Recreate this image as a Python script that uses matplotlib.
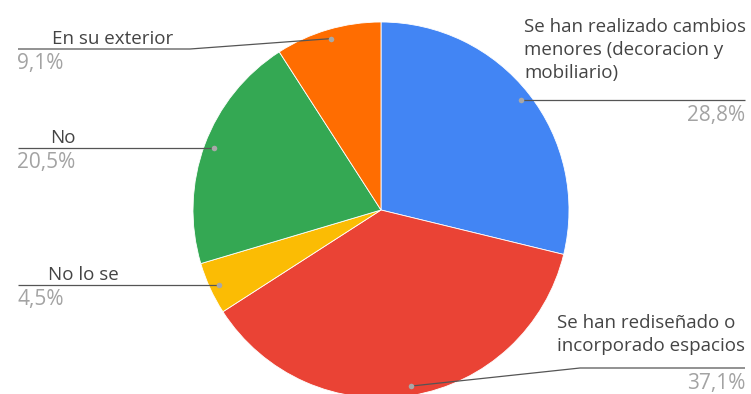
import numpy as np
import matplotlib
matplotlib.use('Agg')
import matplotlib.pyplot as plt

labels = ['Se han realizado cambios\nmenores (decoracion y\nmobiliario)',
          'Se han rediseñado o\nincorporado espacios',
          'No lo se',
          'No',
          'En su exterior']
values = [28.8, 37.1, 4.5, 20.5, 9.1]
pct_text = ['28,8%', '37,1%', '4,5%', '20,5%', '9,1%']
colors = ['#4285F4', '#EA4335', '#FBBC04', '#34A853', '#FF6D01']

W, H = 751, 394

# label placement, pixel units measured from the top edge
# (side, leader y, elbow x or None, label text x, gap above leader)
layout = [('right', 99, None, 524, 18),
          ('right', 368, 580, 557, 13),
          ('left', 282, None, 48, 1),
          ('left', 147, None, 50, 1),
          ('left', 49, 190, 52, 1)]
left_end, right_end = 18, 745

plt.rcParams['font.family'] = ['Open Sans', 'DejaVu Sans']

fig = plt.figure(figsize=(W / 100, H / 100), dpi=100)
ax = fig.add_axes([0, 0, 1, 1])

cx, cy, R = 381, H - 210, 188
wedges, _ = ax.pie(values, colors=colors, startangle=90, counterclock=False,
                   center=(cx, cy), radius=R,
                   wedgeprops=dict(edgecolor='white', linewidth=0.6))

ax.set_xlim(0, W)
ax.set_ylim(0, H)
ax.set_aspect('equal')
ax.axis('off')

for w, lab, pct, (side, ly, ex, tx, gap) in zip(wedges, labels, pct_text, layout):
    mid = np.deg2rad((w.theta1 + w.theta2) / 2)
    dx = cx + 0.95 * R * np.cos(mid)
    dy = cy + 0.95 * R * np.sin(mid)
    ly = H - ly
    end = right_end if side == 'right' else left_end
    if ex is None:
        xs, ys = [dx, end], [dy, dy]
        ly = dy
    else:
        xs, ys = [dx, ex, end], [dy, ly, ly]
    ax.plot(xs, ys, color='#555555', lw=0.9, solid_capstyle='butt', zorder=3)
    ax.plot(dx, dy, 'o', color='#a8a8a8', ms=4, mec='none', zorder=4)

    ax.text(tx, ly + gap, lab, ha='left', va='bottom', fontsize=13.5,
            color='#444444', linespacing=1.35)
    if side == 'right':
        ax.text(right_end, ly - 5, pct, ha='right', va='top', fontsize=15,
                color='#a3a3a3')
    else:
        ax.text(left_end - 1, ly - 4, pct, ha='left', va='top', fontsize=15,
                color='#a3a3a3')

fig.savefig('out.png', dpi=100)
